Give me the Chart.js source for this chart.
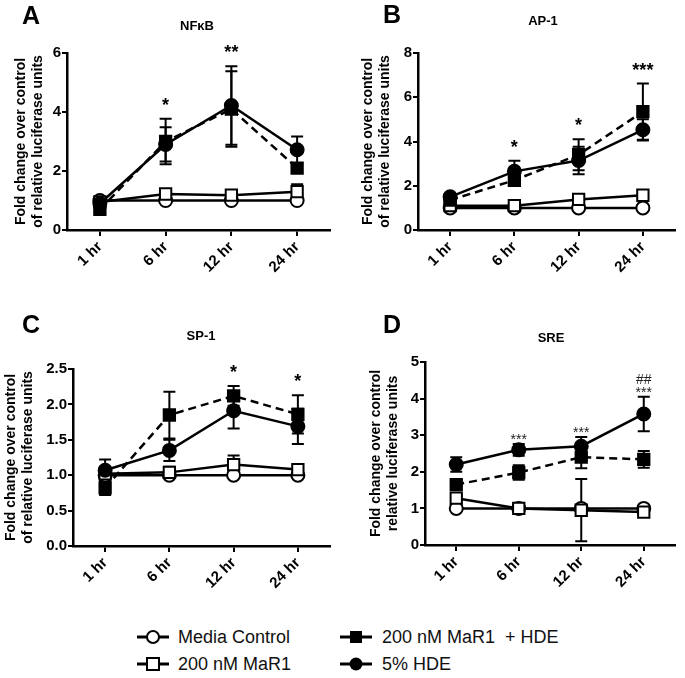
<!DOCTYPE html>
<html>
<head>
<meta charset="utf-8">
<script src="https://cdn.jsdelivr.net/npm/chart.js@4.4.1/dist/chart.umd.min.js"></script>
<style>
  body { margin: 0; background: #fff; width: 685px; height: 678px; position: relative; overflow: hidden;
         font-family: "Liberation Sans", Arial, sans-serif; }
  canvas { position: absolute; }
  .leg { position: absolute; height: 24px; display: flex; align-items: center; font-size: 18px; color: #111; white-space: pre; }
  .leg svg { display: block; }
</style>
</head>
<body>
<canvas id="chartA" width="340" height="300" style="left:0;top:0"></canvas>
<canvas id="chartB" width="345" height="300" style="left:340px;top:0"></canvas>
<canvas id="chartC" width="340" height="300" style="left:0;top:300px"></canvas>
<canvas id="chartD" width="345" height="300" style="left:340px;top:300px"></canvas>

<div class="leg" style="left:137px;top:625px">
  <svg width="32" height="22"><line x1="0" y1="11" x2="32" y2="11" stroke="#000" stroke-width="3"/><circle cx="16" cy="11" r="6" fill="#fff" stroke="#000" stroke-width="2"/></svg>
</div>
<div class="leg" style="left:178px;top:625px">Media Control</div>
<div class="leg" style="left:137px;top:652px">
  <svg width="32" height="22"><line x1="0" y1="11" x2="32" y2="11" stroke="#000" stroke-width="3"/><rect x="10" y="5" width="12" height="12" fill="#fff" stroke="#000" stroke-width="2"/></svg>
</div>
<div class="leg" style="left:178px;top:652px">200 nM MaR1</div>
<div class="leg" style="left:340px;top:625px">
  <svg width="32" height="22"><line x1="0" y1="11" x2="32" y2="11" stroke="#000" stroke-width="3"/><rect x="10" y="5" width="12" height="12" fill="#000"/></svg>
</div>
<div class="leg" style="left:382px;top:625px">200 nM MaR1  + HDE</div>
<div class="leg" style="left:340px;top:652px">
  <svg width="32" height="22"><line x1="0" y1="11" x2="32" y2="11" stroke="#000" stroke-width="3"/><circle cx="16" cy="11" r="6.5" fill="#000"/></svg>
</div>
<div class="leg" style="left:382px;top:652px">5% HDE</div>

<script>
// time points
var timePoints = ['1 hr', '6 hr', '12 hr', '24 hr'];

// A - NFkB
var nfkbControl = [1, 1, 1, 1];
var nfkbMaR1 = [0.95, 1.22, 1.18, 1.3];
var nfkbMaR1Err = [0.05, 0.15, 0.1, 0.25];
var nfkbMaR1Hde = [0.7, 3.0, 4.1, 2.1];
var nfkbMaR1HdeErr = [0.1, 0.77, 1.28, 0.17];
var nfkbHde = [0.9, 2.9, 4.22, 2.72];
var nfkbHdeErr = [0.1, 0.58, 1.33, 0.45];
var nfkbMarks = ['', '*', '**', ''];

// B - AP-1
var ap1Control = [1, 1, 1, 1];
var ap1MaR1 = [1.1, 1.1, 1.38, 1.57];
var ap1MaR1Err = [0.05, 0.08, 0.1, 0.1];
var ap1MaR1Hde = [1.35, 2.25, 3.4, 5.35];
var ap1MaR1HdeErr = [0.1, 0.2, 0.7, 1.27];
var ap1Hde = [1.5, 2.65, 3.14, 4.53];
var ap1HdeErr = [0.1, 0.48, 0.62, 0.48];
var ap1Marks = ['', '*', '*', '***'];

// C - SP-1
var sp1Control = [1, 1, 1, 1];
var sp1MaR1 = [1.02, 1.04, 1.15, 1.08];
var sp1MaR1Err = [0.1, 0.08, 0.13, 0.04];
var sp1MaR1Hde = [0.82, 1.85, 2.12, 1.86];
var sp1MaR1HdeErr = [0.1, 0.33, 0.14, 0.27];
var sp1Hde = [1.07, 1.35, 1.91, 1.69];
var sp1HdeErr = [0.15, 0.15, 0.25, 0.25];
var sp1Marks = ['', '', '*', '*'];

// D - SRE
var sreControl = [1, 1, 1, 1];
var sreMaR1 = [1.28, 1.0, 0.95, 0.9];
var sreMaR1Err = [0, 0.03, 0.85, 0.03];
var sreMaR1Hde = [1.65, 1.98, 2.4, 2.34];
var sreMaR1HdeErr = [0, 0.2, 0.3, 0.23];
var sreHde = [2.2, 2.6, 2.7, 3.58];
var sreHdeErr = [0.2, 0.16, 0.25, 0.47];
var sreMarks = ['', '***', '***', '***'];
var sreHashMarks = ['', '', '', '##'];

var tickFont = { family: 'Liberation Sans', size: 15, weight: 'bold' };
var titleFont = { family: 'Liberation Sans', size: 14, weight: 'bold', lineHeight: 1.2 };

function buildDatasets(control, maR1, maR1Err, maR1Hde, maR1HdeErr, hde, hdeErr) {
  var common = { borderColor: '#000', borderWidth: 2.5, pointBorderColor: '#000', pointBorderWidth: 2, clip: false, tension: 0 };
  return [
    Object.assign({ label: '5% HDE', data: hde, errorBars: hdeErr, pointStyle: 'circle', pointRadius: 6.5, backgroundColor: '#000', pointBackgroundColor: '#000' }, common),
    Object.assign({ label: '200 nM MaR1 + HDE', data: maR1Hde, errorBars: maR1HdeErr, borderDash: [8, 5], pointStyle: 'rect', pointRadius: 8, backgroundColor: '#000', pointBackgroundColor: '#000' }, common),
    Object.assign({ label: '200 nM MaR1', data: maR1, errorBars: maR1Err, pointStyle: 'rect', pointRadius: 8, backgroundColor: '#fff', pointBackgroundColor: '#fff' }, common),
    Object.assign({ label: 'Media Control', data: control, errorBars: null, pointStyle: 'circle', pointRadius: 6.5, backgroundColor: '#fff', pointBackgroundColor: '#fff' }, common)
  ];
}

// error bars drawn behind the markers
var errorBarPlugin = {
  id: 'errorBars',
  beforeDatasetsDraw: function(chart) {
    var ctx = chart.ctx;
    var y = chart.scales.y;
    ctx.save();
    ctx.strokeStyle = '#000';
    ctx.lineWidth = 2;
    chart.data.datasets.forEach(function(ds, di) {
      if (!ds.errorBars) return;
      var meta = chart.getDatasetMeta(di);
      ds.data.forEach(function(v, i) {
        var e = ds.errorBars[i];
        if (!e) return;
        var x = meta.data[i].x;
        var yt = y.getPixelForValue(v + e);
        var yb = y.getPixelForValue(v - e);
        ctx.beginPath();
        ctx.moveTo(x, yt); ctx.lineTo(x, yb);
        ctx.moveTo(x - 6, yt); ctx.lineTo(x + 6, yt);
        ctx.moveTo(x - 6, yb); ctx.lineTo(x + 6, yb);
        ctx.stroke();
      });
    });
    ctx.restore();
  }
};

// panel letter, title and significance marks
var panelTextPlugin = {
  id: 'panelText',
  afterDraw: function(chart, args, opts) {
    var ctx = chart.ctx;
    ctx.save();
    ctx.fillStyle = '#000';
    ctx.textAlign = 'left';
    ctx.textBaseline = 'alphabetic';
    ctx.font = 'bold 25px "Liberation Sans"';
    ctx.fillText(opts.letter, opts.letterX, opts.letterY);
    ctx.textAlign = 'center';
    ctx.font = 'bold 13px "Liberation Sans"';
    ctx.fillText(opts.title, opts.titleX, opts.titleY);

    var y = chart.scales.y;
    var meta0 = chart.getDatasetMeta(0);
    opts.marks.forEach(function(m, i) {
      if (!m) return;
      var top = 0;
      chart.data.datasets.forEach(function(ds) {
        var e = ds.errorBars ? ds.errorBars[i] : 0;
        top = Math.max(top, ds.data[i] + (e || 0));
      });
      var py = y.getPixelForValue(top) - opts.markOffset;
      ctx.font = opts.markFont;
      ctx.fillStyle = opts.markColor;
      ctx.fillText(m, meta0.data[i].x, py);
      if (opts.extraMarks && opts.extraMarks[i]) {
        ctx.fillText(opts.extraMarks[i], meta0.data[i].x, py - 13);
      }
    });
    ctx.restore();
  }
};

function makeChart(id, p) {
  var canvas = document.getElementById(id);
  var ctx = canvas.getContext('2d');
  return new Chart(ctx, {
    type: 'line',
    data: { labels: timePoints, datasets: p.datasets },
    options: {
      responsive: false,
      animation: false,
      layout: { padding: { left: 0, top: p.top, right: p.right, bottom: 0 } },
      plugins: {
        legend: { display: false },
        tooltip: { enabled: false },
        panelText: p.text
      },
      scales: {
        x: {
          type: 'category',
          offset: true,
          grid: { offset: false, drawOnChartArea: false, drawTicks: true, tickLength: 6, color: '#000', lineWidth: 2 },
          border: { display: true, color: '#000', width: 2.5 },
          ticks: { minRotation: 45, maxRotation: 45, font: tickFont, color: '#000', padding: 2 },
          afterFit: function(s) { s.height = p.xHeight; }
        },
        y: {
          min: 0, max: p.max,
          grid: { drawOnChartArea: false, drawTicks: true, tickLength: 5, color: '#000', lineWidth: 2 },
          border: { display: true, color: '#000', width: 2.5 },
          ticks: { stepSize: p.step, font: tickFont, color: '#000', padding: 1,
                   callback: function(v) { return p.decimals ? v.toFixed(1) : v; } },
          title: { display: true, text: p.yTitle, font: titleFont, color: '#000', padding: { top: p.titlePad, bottom: 0 } },
          afterFit: function(s) { s.width = p.yWidth; }
        }
      }
    },
    plugins: [errorBarPlugin, panelTextPlugin]
  });
}

var bigMark = 'bold 18px "Liberation Sans"';
var smallMark = '14px "Liberation Sans"';

makeChart('chartA', {
  datasets: buildDatasets(nfkbControl, nfkbMaR1, nfkbMaR1Err, nfkbMaR1Hde, nfkbMaR1HdeErr, nfkbHde, nfkbHdeErr),
  max: 6, step: 2, top: 53, right: 7, xHeight: 70, yWidth: 67, titlePad: 13,
  yTitle: ['Fold change over control', 'of relative luciferase units'],
  text: { letter: 'A', letterX: 22, letterY: 24, title: 'NF\u03baB', titleX: 197, titleY: 30,
          marks: nfkbMarks, markOffset: 8, markFont: bigMark, markColor: '#000' }
});

makeChart('chartB', {
  datasets: buildDatasets(ap1Control, ap1MaR1, ap1MaR1Err, ap1MaR1Hde, ap1MaR1HdeErr, ap1Hde, ap1HdeErr),
  max: 8, step: 2, top: 53, right: 2, xHeight: 70, yWidth: 78, titlePad: 20,
  yTitle: ['Fold change over control', 'of relative luciferase units'],
  text: { letter: 'B', letterX: 43, letterY: 23, title: 'AP-1', titleX: 203, titleY: 25,
          marks: ap1Marks, markOffset: 8, markFont: bigMark, markColor: '#000' }
});

makeChart('chartC', {
  datasets: buildDatasets(sp1Control, sp1MaR1, sp1MaR1Err, sp1MaR1Hde, sp1MaR1HdeErr, sp1Hde, sp1HdeErr),
  max: 2.5, step: 0.5, decimals: true, top: 69, right: 7, xHeight: 54, yWidth: 73, titlePad: 3,
  yTitle: ['Fold change over control', 'of relative luciferase units'],
  text: { letter: 'C', letterX: 22, letterY: 33, title: 'SP-1', titleX: 201, titleY: 40,
          marks: sp1Marks, markOffset: 8, markFont: bigMark, markColor: '#000' }
});

makeChart('chartD', {
  datasets: buildDatasets(sreControl, sreMaR1, sreMaR1Err, sreMaR1Hde, sreMaR1HdeErr, sreHde, sreHdeErr),
  max: 5, step: 1, top: 62, right: 2, xHeight: 55, yWidth: 85, titlePad: 28,
  yTitle: ['Fold change over control', 'relative luciferase units'],
  text: { letter: 'D', letterX: 43, letterY: 33, title: 'SRE', titleX: 211, titleY: 42,
          marks: sreMarks, extraMarks: sreHashMarks, markOffset: 0, markFont: smallMark, markColor: '#222' }
});
</script>
</body>
</html>
